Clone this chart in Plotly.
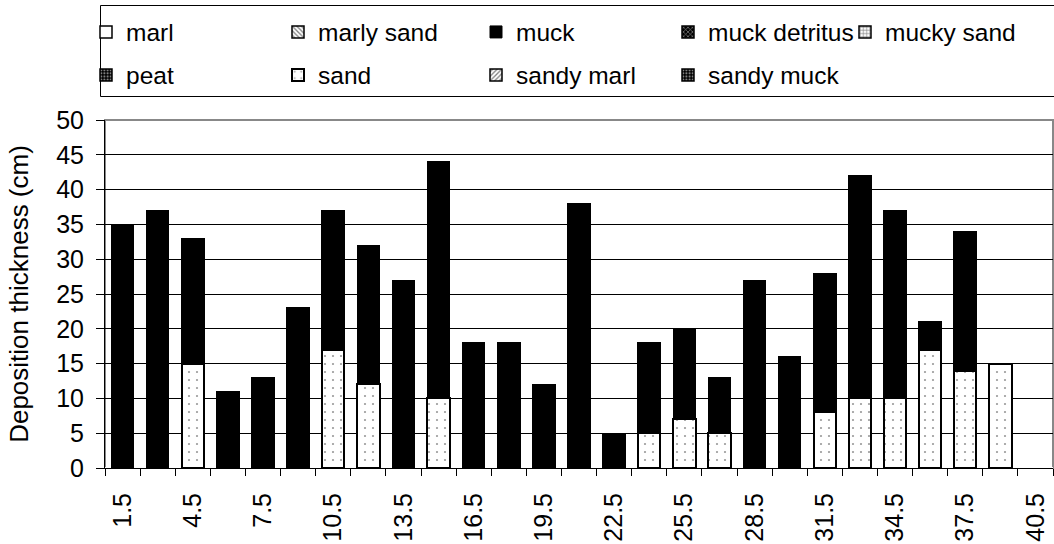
import plotly.graph_objects as go

categories = ["1.5", "3", "4.5", "6", "7.5", "9", "10.5", "12", "13.5", "15", "16.5", "18", "19.5",
              "21", "22.5", "24", "25.5", "27", "28.5", "30", "31.5", "33", "34.5", "36", "37.5", "39", "40.5"]
sand = [0, 0, 15, 0, 0, 0, 17, 12, 0, 10, 0, 0, 0,
        0, 0, 5, 7, 5, 0, 0, 8, 10, 10, 17, 14, 15, 0]
muck = [35, 37, 18, 11, 13, 23, 20, 20, 27, 34, 18, 18, 12,
        38, 5, 13, 13, 8, 27, 16, 20, 32, 27, 4, 20, 0, 0]
tick_labels = ["1.5", "", "4.5", "", "7.5", "", "10.5", "", "13.5", "", "16.5", "", "19.5",
               "", "22.5", "", "25.5", "", "28.5", "", "31.5", "", "34.5", "", "37.5", "", "40.5"]
legend_names = ["marl", "marly sand", "muck", "muck detritus", "mucky sand",
                "peat", "sand", "sandy marl", "sandy muck"]

FONT = "Liberation Sans, Arial, sans-serif"

W, H = 1054, 544
ml, mr, mt, mb = 105, 1, 120, 76
pw = W - ml - mr
ph = H - mt - mb

def px_x(pix):  # window pixel -> paper x
    return (pix - ml) / pw

def px_y(pix):  # window pixel -> paper y
    return (H - mb - pix) / ph

# legend layout (text start x, row centre y) in window pixels
leg_pos = {
    "marl": (123, 32), "marly sand": (315, 32), "muck": (513, 32),
    "muck detritus": (705, 32), "mucky sand": (882, 32),
    "peat": (123, 75), "sand": (315, 75), "sandy marl": (513, 75), "sandy muck": (705, 75),
}
leg_id = {nm: ("legend" if i == 0 else f"legend{i + 1}") for i, nm in enumerate(legend_names)}

fig = go.Figure()

sand_vals = [v if v > 0 else None for v in sand]
muck_vals = [v if v > 0 else None for v in muck]

# stacked: sand at bottom, muck on top
fig.add_trace(go.Bar(x=categories, y=sand_vals, name="sand", legend=leg_id["sand"],
                     marker=dict(color="white", line=dict(color="black", width=2),
                                 pattern=dict(shape=".", fgcolor="#333333", bgcolor="white",
                                              size=8, solidity=0.06))))
fig.add_trace(go.Bar(x=categories, y=muck_vals, name="muck", legend=leg_id["muck"],
                     marker=dict(color="black", line=dict(color="black", width=1))))

empty = [None] * len(categories)
styles = {
    "marl": ("white", None),
    "marly sand": ("white", "\\"),
    "muck detritus": ("black", "x"),
    "mucky sand": ("white", "+"),
    "peat": ("black", "."),
    "sandy marl": ("white", "/"),
    "sandy muck": ("black", "."),
}
for nm in legend_names:
    if nm in ("muck", "sand"):
        continue
    col, pat = styles[nm]
    mk = dict(color=col, line=dict(color="black", width=1.5))
    if pat:
        fg = "white" if col == "black" else "black"
        mk["pattern"] = dict(shape=pat, fgcolor=fg, bgcolor=col, size=4, solidity=0.4)
    fig.add_trace(go.Bar(x=categories, y=empty, name=nm, marker=mk,
                         legend=leg_id[nm], showlegend=True))

legends = {}
for nm in legend_names:
    tx, ty = leg_pos[nm]
    legends[leg_id[nm]] = dict(
        orientation="h", xanchor="left", yanchor="middle",
        x=px_x(tx - 37), y=px_y(ty),
        font=dict(family=FONT, size=24.5, color="black"),
        bgcolor="rgba(0,0,0,0)", borderwidth=0, itemwidth=30)

fig.update_layout(
    width=W, height=H,
    margin=dict(l=ml, r=mr, t=mt, b=mb, autoexpand=False),
    paper_bgcolor="white", plot_bgcolor="white",
    barmode="stack", bargap=0.36,
    font=dict(family=FONT, size=25, color="black"),
    xaxis=dict(type="category", categoryorder="array", categoryarray=categories,
               tickvals=categories, ticktext=tick_labels, tickson="boundaries",
               tickangle=-90, ticks="outside", ticklen=7, tickcolor="black",
               showline=True, linecolor="black", linewidth=1, showgrid=False,
               automargin=False, ticklabelstandoff=14,
               tickfont=dict(family=FONT, size=25, color="black")),
    yaxis=dict(range=[0, 50], dtick=5, tick0=0, showgrid=True, gridcolor="black", gridwidth=1,
               ticks="outside", ticklen=8, tickcolor="black",
               showline=True, linecolor="black", linewidth=1, automargin=False,
               ticklabelstandoff=7,
               title=dict(text="Deposition thickness (cm)",
                          font=dict(family=FONT, size=26, color="black"), standoff=20),
               tickfont=dict(family=FONT, size=25, color="black")),
    shapes=[
        dict(type="rect", xref="paper", yref="paper", x0=0, x1=1, y0=0, y1=1,
             line=dict(color="#888888", width=2), layer="below"),
        dict(type="rect", xref="paper", yref="paper",
             x0=px_x(100.5), x1=px_x(1060), y0=px_y(96.5), y1=px_y(5.5),
             line=dict(color="black", width=1)),
    ],
    **legends,
)

fig.write_html("out.html",
               config={"displayModeBar": False},
               post_script="document.body.style.margin='0px'; document.body.style.overflow='hidden';")
